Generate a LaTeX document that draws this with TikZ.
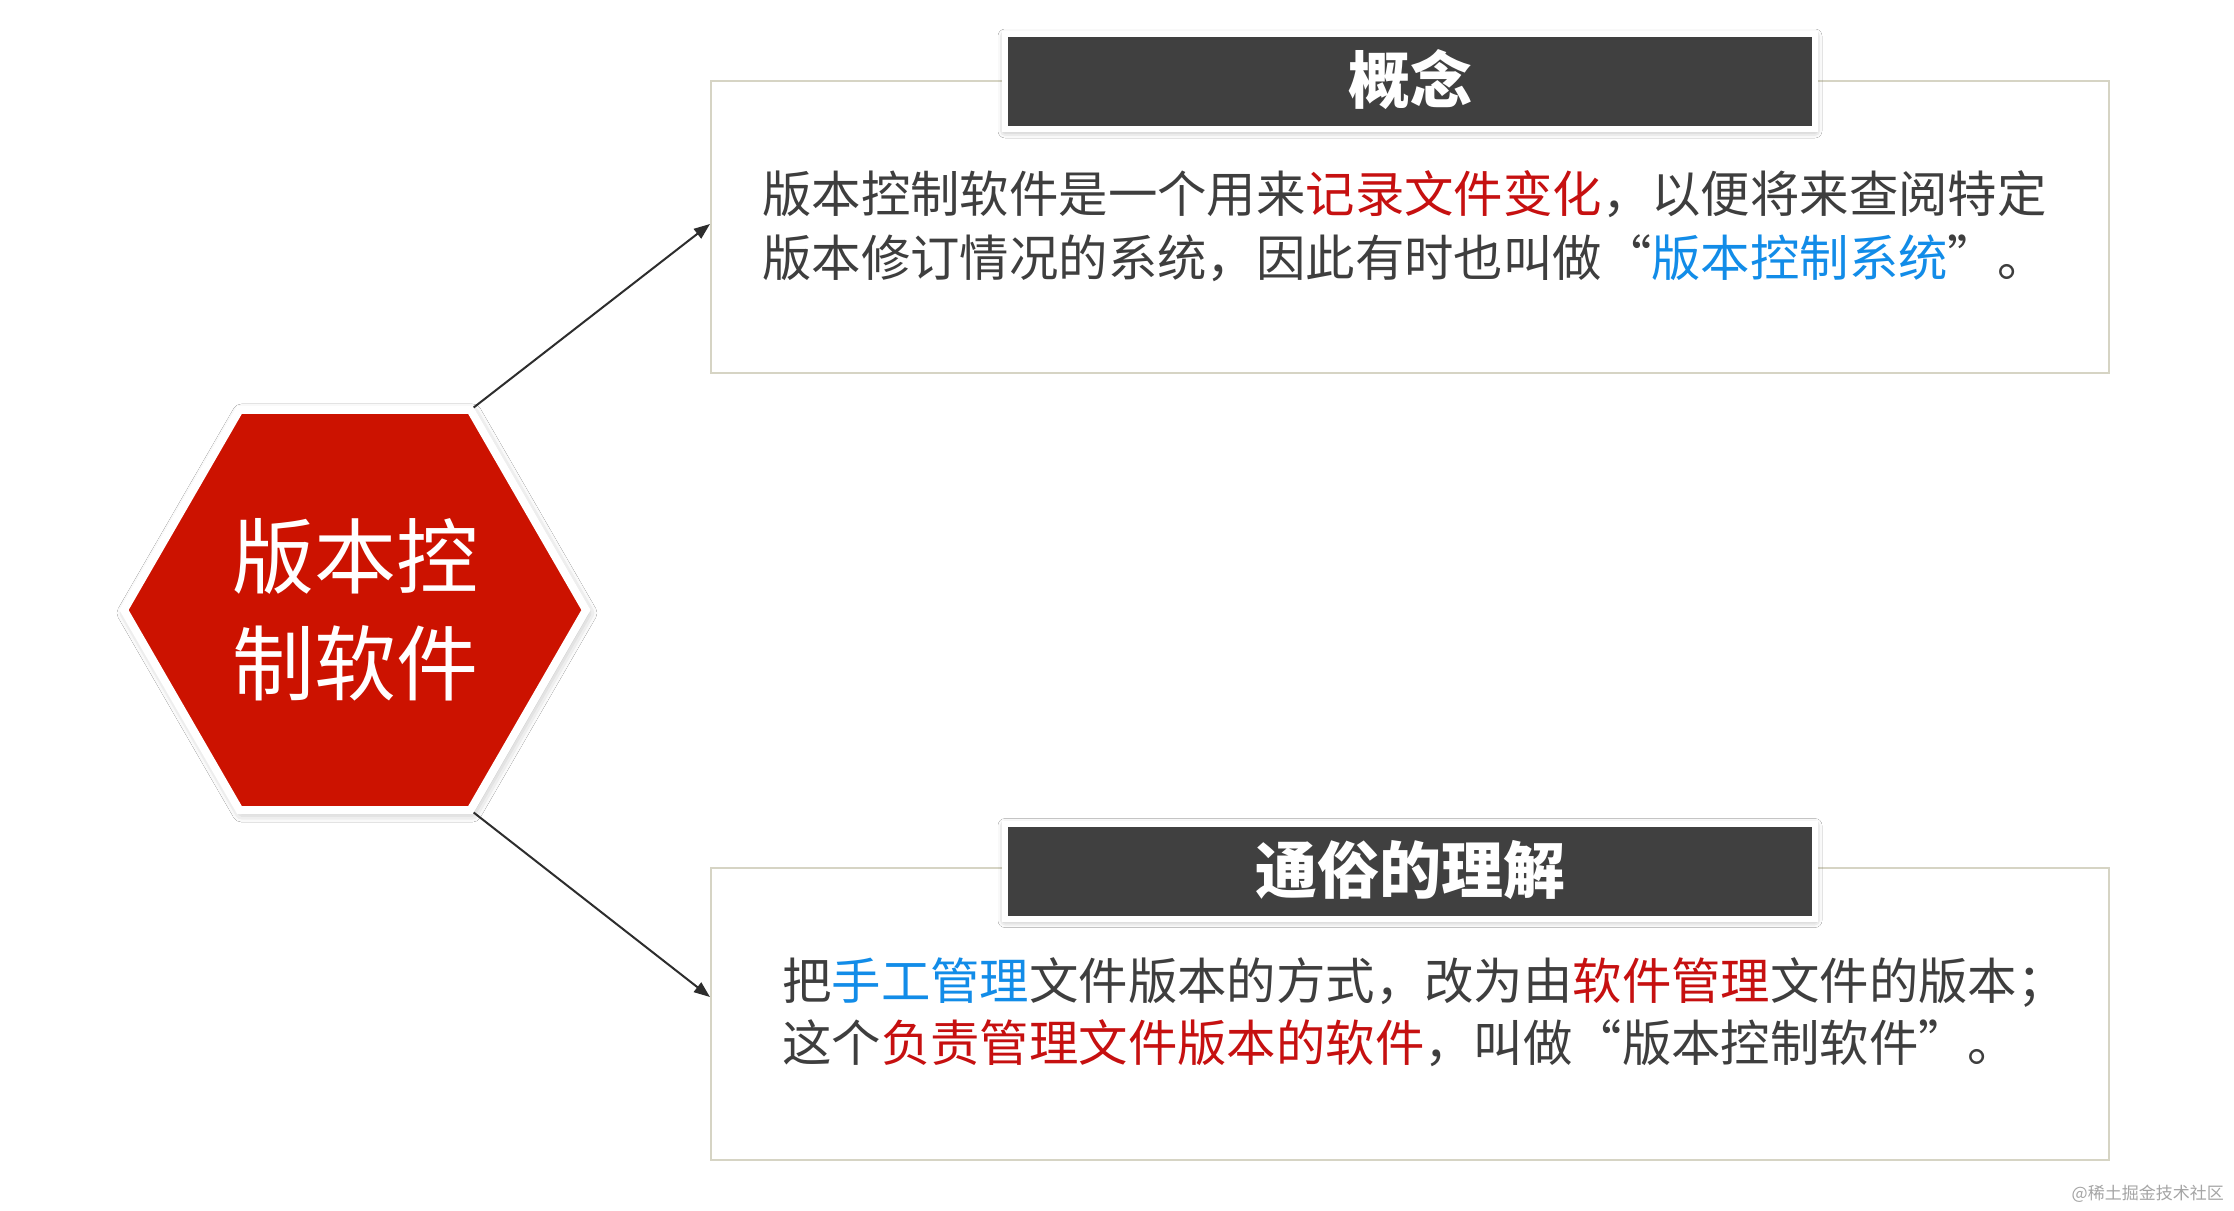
\documentclass[tikz,border=0pt]{standalone}
\usepackage{fontspec}
\newfontfamily\cjk{Noto Sans CJK SC}[RawFeature=+fwid]
\newfontfamily\cjkplain{Noto Sans CJK SC}
\usetikzlibrary{shapes.geometric,arrows.meta,calc,shadows.blur}
\definecolor{hexred}{RGB}{204,18,0}
\definecolor{titlegray}{RGB}{64,64,64}
\definecolor{textgray}{RGB}{62,62,62}
\definecolor{txtred}{RGB}{198,16,16}
\definecolor{txtblue}{RGB}{18,140,232}
\definecolor{boxline}{RGB}{214,212,196}
\definecolor{connline}{RGB}{45,45,45}
\definecolor{wmgray}{RGB}{165,165,165}
\begin{document}
\begin{tikzpicture}[x=1pt,y=-1pt,
  hexshape/.style={regular polygon, regular polygon sides=6, minimum size=462pt,
    inner sep=0pt, outer sep=0pt, fill=hexred, draw=white, line width=8pt,
    blur shadow={shadow xshift=2pt, shadow yshift=-3pt, shadow blur radius=9pt, shadow opacity=35}},
  hextext/.style={align=center, inner sep=0pt, text=white,
    font=\cjkplain\fontsize{82}{107}\selectfont},
  contentbox/.style={rectangle, minimum width=1398pt, minimum height=292pt,
    inner sep=0pt, fill=white, draw=boxline, line width=2pt},
  titlebox/.style={rectangle, minimum width=810pt, minimum height=95pt, inner sep=0pt,
    fill=titlegray, draw=white, line width=6pt, text=white,
    text height=52pt, text depth=8pt,
    blur shadow={shadow xshift=0pt, shadow yshift=-2pt, shadow blur radius=7pt, shadow opacity=40},
    font=\cjk\bfseries\fontsize{62}{62}\selectfont},
  bodytext/.style={anchor=base west, inner sep=0pt, text=textgray,
    font=\cjk\fontsize{49.4}{63}\selectfont},
  conn/.style={draw=connline, line width=2pt, -{Triangle[length=16pt,width=12pt]}, shorten <=4pt}
]
\useasboundingbox (0,0) rectangle (2234,1210);
\fill[white] (0,0) rectangle (2234,1210);

% content boxes
\node[contentbox] (box1) at (1410,227) {};
\node[contentbox] (box2) at (1410,1014) {};

% title boxes
\node[titlebox] (title1) at (1410,81.5) {概念};
\node[titlebox] (title2) at (1410,871) {通俗的理解};

% body texts
\node[bodytext] (t1a) at (762,212) {版本控制软件是一个用来\textcolor{txtred}{记录文件变化}，以便将来查阅特定};
\node[bodytext] (t1b) at (762,276) {版本修订情况的系统，因此有时也叫做“\textcolor{txtblue}{版本控制系统}”。};
\node[bodytext] (t2a) at (782,999) {把\textcolor{txtblue}{手工管理}文件版本的方式，改为由\textcolor{txtred}{软件管理}文件的版本；};
\node[bodytext] (t2b) at (782,1061) {这个\textcolor{txtred}{负责管理文件版本的软件}，叫做“版本控制软件”。};

% hexagon
\node[hexshape] (hex) at (355,610) {};
\node[hextext] (hexlabel) at (hex.center) {版本控\\制软件};

% connectors
\draw[conn] (hex.60) -- ($(box1.west)+(0,-3)$);
\draw[conn] (hex.-60) -- ($(box2.west)+(0,-17)$);

% watermark
\node[anchor=base east, inner sep=0pt, text=wmgray, font=\cjkplain\fontsize{17}{17}\selectfont] (wm) at (2224,1199) {@稀土掘金技术社区};
\end{tikzpicture}
\end{document}
